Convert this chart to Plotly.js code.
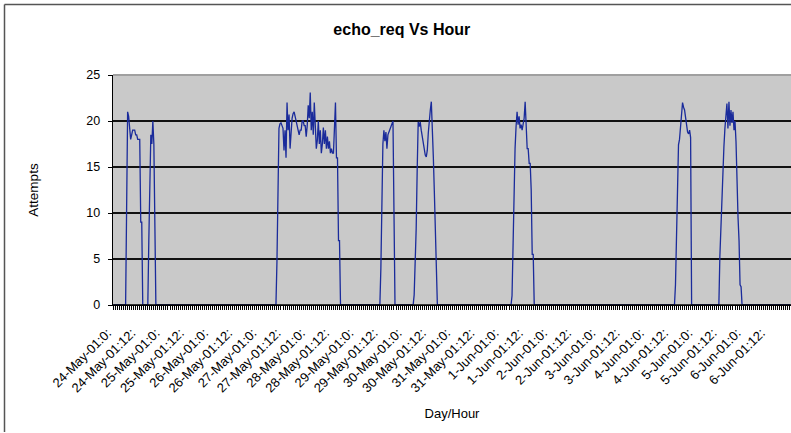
<!DOCTYPE html>
<html>
<head>
<meta charset="utf-8">
<script src="https://cdn.plot.ly/plotly-3.0.1.min.js"></script>
<style>
  html, body { margin: 0; padding: 0; background: #ffffff; }
  #chart { width: 791px; height: 433px; }
</style>
</head>
<body>
<div id="chart"></div>
<script>
// ---- data ----
const days = ['24-May-01','25-May-01','26-May-01','27-May-01','28-May-01','29-May-01','30-May-01',
              '31-May-01','1-Jun-01','2-Jun-01','3-Jun-01','4-Jun-01','5-Jun-01','6-Jun-01'];
const hourLabels = ['0:', '12:'];
const readingsPerDay = 48;          // half-hour readings
const readingsPerLabel = 24;        // a label every 12 hours

// start (reading index) of each burst of echo requests, and the readings within it
const burstStart = [12, 34, 161, 264, 297, 394, 556, 600];
const burstA1 = [0, 10.5, 21, 20.5, 19.5, 18, 18.5, 19, 19, 19, 18.5, 18.5, 18, 18, 18, 9, 9, 0];
const burstA2 = [0, 7, 15.5, 18.5, 17.5, 20, 17.5, 7.5, 0];
const burstB  = [0, 4.7, 14.1, 19.2, 19.7, 19.8, 19.5, 19.2, 16.8, 19, 16, 22, 19, 20.7, 17, 19, 20.3, 20.8,
                 21, 20.5, 20, 19.5, 19, 18.5, 19, 19, 20, 20, 19.5, 19.5, 18.3, 19.5, 21.7, 20.3, 23.1, 19,
                 21, 18.5, 22, 19.5, 17, 17.9, 20, 17.5, 19, 16.5, 17.5, 19.3, 17.5, 19, 17, 18.3, 17, 17.8,
                 16.5, 17, 16.5, 16.5, 20, 22, 16, 16, 7, 7, 0];
const burstC1 = [0, 4, 12, 17.5, 19, 17.8, 18.8, 17, 18.5, 18.8, 19.2, 19.5, 19.8, 20, 10, 0];
const burstC2 = [0, 1.1, 4.7, 8.3, 14.7, 19.9, 19.4, 19.9, 19, 18.3, 17.5, 16.7, 16.3, 16.1, 16.8, 18.7,
                 20.3, 21.2, 22.1, 19.8, 16.1, 12.3, 7.6, 3.3, 0];
const burstD  = [0, 1, 6, 13.9, 17, 19.4, 21, 19.6, 20.5, 19.2, 19.6, 19, 19.8, 20.3, 22.1, 19.6, 17, 17,
                 15.4, 15.4, 12.5, 5.5, 5.5, 0];
const burstE1 = [0, 2.2, 6.5, 12.9, 17.4, 18, 19.5, 20.5, 22, 21.5, 21.2, 20.4, 19.5, 18.8, 18.6, 19, 18.2, 0];
const burstE2 = [0, 5.3, 8.3, 12.5, 15, 17.2, 19.2, 21.2, 21.9, 19.2, 22.1, 19.5, 21.2, 19.8, 21, 19, 20,
                 17.75, 12.5, 9.5, 7, 2.2, 2, 0];
const burstValues = [burstA1, burstA2, burstB, burstC1, burstC2, burstD, burstE1, burstE2];

// ---- build the series (zero outside the bursts) ----
const nReadings = days.length * readingsPerDay;
const readingIndex = [];
const attempts = [];
for (let i = 0; i < nReadings; i++) { readingIndex.push(i); attempts.push(0); }
burstStart.forEach((s, b) => burstValues[b].forEach((v, k) => { attempts[s + k] = v; }));

const tickVals = [], tickText = [];
days.forEach((d, di) => hourLabels.forEach((h, hi) => {
  tickVals.push(di * readingsPerDay + hi * readingsPerLabel);
  tickText.push(d + ':' + h);
}));

const font = 'Liberation Sans, Arial, sans-serif';

const trace = {
  type: 'scatter', mode: 'lines',
  x: readingIndex, y: attempts,
  line: { color: '#1a2b9b', width: 1.3 },
  hoverinfo: 'skip', showlegend: false
};

const layout = {
  width: 791, height: 433,
  margin: { l: 113, r: 0, t: 75, b: 128, pad: 0 },
  paper_bgcolor: '#ffffff',
  plot_bgcolor: '#c9c9c9',
  font: { family: font, size: 12, color: '#000' },
  title: {
    text: '<b>echo_req Vs Hour</b>',
    font: { family: font, size: 16, color: '#000' },
    xref: 'container', x: 0.508, xanchor: 'center',
    yref: 'container', y: 0.932, yanchor: 'middle'
  },
  xaxis: {
    range: [-0.5, nReadings - 0.5],
    tickmode: 'array', tickvals: tickVals, ticktext: tickText,
    tickangle: -45, tickfont: { family: font, size: 13 },
    ticklabelstandoff: 10, ticklabelshift: -6,
    ticks: 'outside', ticklen: 4, tickwidth: 1, tickcolor: '#000',
    minor: { tickmode: 'linear', tick0: 0, dtick: 2, ticks: 'outside', ticklen: 4, tickwidth: 1, tickcolor: '#000', showgrid: false },
    showgrid: false, zeroline: false,
    showline: true, linecolor: '#000', linewidth: 1.3,
    title: { text: 'Day/Hour', font: { family: font, size: 13 }, standoff: 14 },
    automargin: false, fixedrange: true
  },
  yaxis: {
    range: [0, 25], tickmode: 'linear', tick0: 0, dtick: 5,
    tickfont: { family: font, size: 12.5 },
    ticks: 'outside', ticklen: 4, tickwidth: 1, tickcolor: '#000',
    ticklabelstandoff: 5,
    showgrid: true, gridcolor: '#111', gridwidth: 1.3,
    zeroline: false,
    showline: true, linecolor: '#000', linewidth: 1.3,
    title: { text: 'Attempts', font: { family: font, size: 13.5 }, standoff: 44 },
    automargin: false, fixedrange: true
  },
  shapes: [
    // plot-area top edge (light grey border instead of a gridline)
    { type: 'line', xref: 'paper', yref: 'paper', x0: 0, x1: 1, y0: 1, y1: 1,
      line: { color: '#a0a0a0', width: 2 }, layer: 'above' },
    // category axis line drawn over the series where it sits at zero
    { type: 'line', xref: 'paper', yref: 'paper', x0: 0, x1: 1, y0: 0, y1: 0,
      line: { color: '#000', width: 1.6 }, layer: 'above' },
    // chart-area frame (left and top)
    { type: 'line', xref: 'paper', yref: 'paper', x0: -108.5/678, x1: -108.5/678, y0: 300.5/230, y1: -127/230,
      line: { color: '#555', width: 1.5 }, layer: 'above' },
    { type: 'line', xref: 'paper', yref: 'paper', x0: -108.5/678, x1: 1.01, y0: 300.5/230, y1: 300.5/230,
      line: { color: '#555', width: 1.5 }, layer: 'above' }
  ]
};

Plotly.newPlot('chart', [trace], layout, { staticPlot: true, displayModeBar: false });
</script>
</body>
</html>
